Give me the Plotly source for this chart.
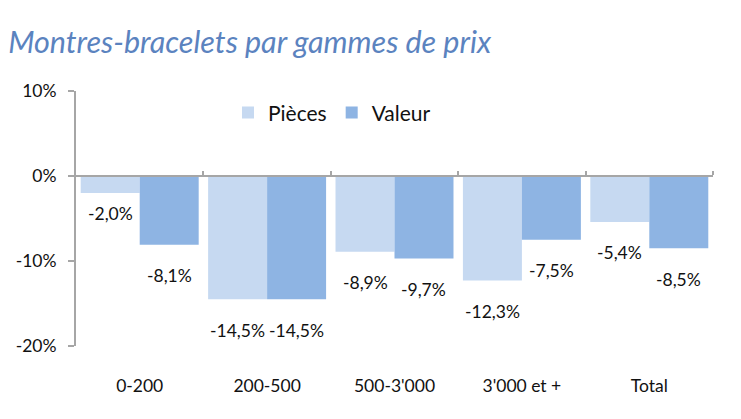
import plotly.graph_objects as go

categories = ["0-200", "200-500", "500-3'000", "3'000 et +", "Total"]
pieces = [-2.0, -14.5, -8.9, -12.3, -5.4]
valeur = [-8.1, -14.5, -9.7, -7.5, -8.5]
ytick_vals = [10, 0, -10, -20]
ytick_text = ["10%", "0%", "-10%", "-20%"]

C_PIECES = "#C6D9F1"
C_VALEUR = "#8EB4E3"
AXIS = "#A6A6A6"
FONT = "Lato, 'Open Sans', sans-serif"
BARGAP = 0.074

x_idx = list(range(len(categories)))

fig = go.Figure()
fig.add_trace(go.Bar(x=x_idx, y=pieces, name="Pièces", marker=dict(color=C_PIECES, line=dict(width=0))))
fig.add_trace(go.Bar(x=x_idx, y=valeur, name="Valeur", marker=dict(color=C_VALEUR, line=dict(width=0))))

half = (1 - BARGAP) / 4
def fmt(v):
    return ("%.1f" % v).replace(".", ",") + "%"

annotations = []
for i in x_idx:
    for off, v in ((-half, pieces[i]), (half, valeur[i])):
        annotations.append(dict(
            x=i + off, y=v, xref="x", yref="y", text=fmt(v), showarrow=False,
            yanchor="middle", xanchor="center", yshift=-20 if abs(v) < 3 else -31,
            font=dict(family=FONT, size=17.5, color="#111111")))

fig.update_layout(
    width=741, height=419,
    margin=dict(l=76, r=28, t=91, b=73),
    paper_bgcolor="white", plot_bgcolor="white",
    barmode="group", bargap=BARGAP, bargroupgap=0,
    title=dict(text="<i>Montres-bracelets par gammes de prix</i>", x=0.011, xanchor="left",
               y=1 - 42 / 419, yanchor="middle", yref="container",
               font=dict(family=FONT, size=30.5, color="#5B83BF")),
    legend=dict(orientation="h", x=0.2386, xanchor="left", y=0.914, yanchor="middle",
                font=dict(family=FONT, size=21, color="#111111"),
                bgcolor="rgba(0,0,0,0)", itemwidth=30, traceorder="normal"),
    showlegend=True,
    annotations=annotations,
    xaxis=dict(range=[-0.5, 4.5], tickvals=x_idx, ticktext=categories, showline=False,
               ticks="", showgrid=False, zeroline=False, ticklabelstandoff=27,
               tickfont=dict(family=FONT, size=17.5, color="#111111")),
    xaxis2=dict(overlaying="x", matches="x", anchor="free", position=2 / 3, side="top",
                showline=True, linecolor=AXIS, linewidth=2, ticks="outside", ticklen=4,
                tickwidth=2, tickcolor=AXIS, tickvals=[0.5, 1.5, 2.5, 3.5, 4.5],
                showticklabels=False, showgrid=False, zeroline=False, layer="above traces"),
    yaxis=dict(range=[-20, 10], tickvals=ytick_vals, ticktext=ytick_text, showline=True,
               linecolor=AXIS, linewidth=2, ticks="outside", ticklen=6, tickwidth=2,
               tickcolor=AXIS, showgrid=False, zeroline=False, ticklabelstandoff=8,
               tickfont=dict(family=FONT, size=17.5, color="#111111")),
)
fig.add_trace(go.Scatter(x=[0], y=[0], xaxis="x2", mode="markers", marker=dict(opacity=0),
                         showlegend=False, hoverinfo="skip"))
fig.write_html("out.html")
